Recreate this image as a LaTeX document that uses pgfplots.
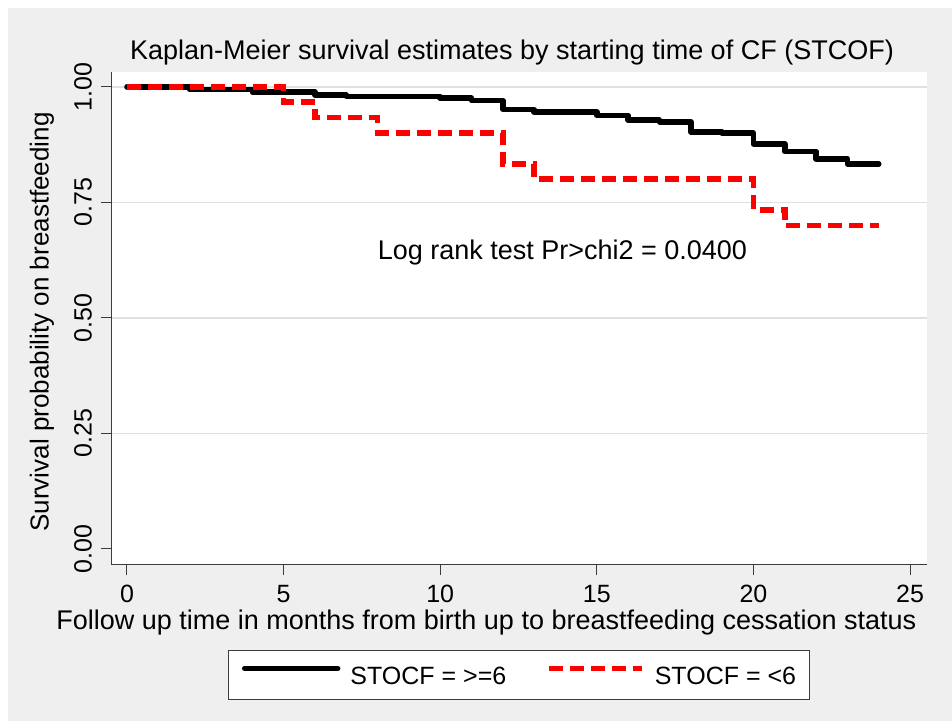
\documentclass[border=0pt]{standalone}
\usepackage{fontspec}
\setmainfont{Liberation Sans}
\usepackage{pgfplots}
\pgfplotsset{compat=1.18}
\definecolor{bg}{RGB}{239,239,239}
\definecolor{gridc}{RGB}{224,224,224}
\definecolor{axc}{RGB}{60,60,60}
\begin{document}
\begin{tikzpicture}[x=1bp,y=1bp]
\fill[white] (0,0) rectangle (952,721);
\fill[bg] (8,0) rectangle (952,713);
\begin{axis}[
  at={(111bp,156bp)}, anchor=south west,
  width=816bp, height=493bp, scale only axis,
  xmin=-0.51, xmax=25.54, ymin=-0.035, ymax=1.032,
  axis x line*=bottom, axis y line*=left,
  axis line style={-, draw=axc, line width=1bp},
  axis background/.style={fill=white},
  xtick={0,5,10,15,20,25},
  ytick={0.25,0.5,0.75,1}, yticklabels={0.25,0.50,0.75,1.00},
  extra y ticks={0}, extra y tick labels={0.00}, extra y tick style={grid=none},
  ymajorgrids, grid style={gridc, line width=1.5bp},
  tick align=outside, major tick length=10bp,
  tick style={axc, line width=1bp},
  /pgf/number format/assume math mode=true,
  ticklabel style={font=\fontsize{25bp}{30bp}\selectfont},
  xticklabel style={inner sep=0pt},
  xticklabel shift=10bp,
  yticklabel style={rotate=90, anchor=south, inner sep=0pt},
  yticklabel shift=9bp,
  title={Kaplan-Meier survival estimates by starting time of CF (STCOF)},
  title style={at={(axis description cs:0.4914,1.0122)}, anchor=base, inner sep=0pt, font=\fontsize{27bp}{32bp}\selectfont},
  xlabel={Follow up time in months from birth up to breastfeeding cessation status},
  xlabel style={at={(axis description cs:0.460,-0.1318)}, anchor=base, inner sep=0pt, font=\fontsize{27bp}{32bp}\selectfont},
  ylabel={Survival probability on breastfeeding},
  ylabel style={at={(axis description cs:-0.0846,0.493)}, anchor=center, inner sep=0pt, font=\fontsize{26bp}{31bp}\selectfont},
  legend columns=2,
  legend image code/.code={\draw[#1] (0bp,7bp) -- (93bp,7bp);},
  legend style={at={(axis description cs:0.5,-0.2232)}, anchor=center,
    draw=axc, line width=1bp, fill=white, inner xsep=13bp, inner ysep=15bp,
    font=\fontsize{25bp}{30bp}\selectfont,
    nodes={inner sep=0pt, text height=18bp, text depth=0pt},
    /tikz/every odd column/.append style={column sep=10bp},
    /tikz/every even column/.append style={column sep=40bp}},
]
\addplot[black, line width=5.5bp, const plot, line cap=round, line join=round] coordinates {
(0,1) (2,0.994) (4,0.9885) (6,0.982) (7,0.979) (10,0.9755) (11,0.970) (12,0.951)
(13,0.945) (15,0.938) (16,0.928) (17,0.924) (18,0.902) (19,0.900) (20,0.876)
(21,0.860) (22,0.844) (23,0.833) (24,0.833)};
\addplot[red, line width=5.5bp, const plot, dash pattern=on 14bp off 7bp] coordinates {
(0,1) (5,0.967) (6,0.933) (8,0.900) (12,0.833) (13,0.800) (20,0.733) (21,0.700) (24,0.700)};
\legend{STOCF = >=6, STOCF = <6}
\node[anchor=base west, inner sep=0pt, font=\fontsize{27bp}{32bp}\selectfont] at (axis cs:8,0.6255) {Log rank test Pr>chi2 = 0.0400};
\end{axis}
\end{tikzpicture}
\end{document}
